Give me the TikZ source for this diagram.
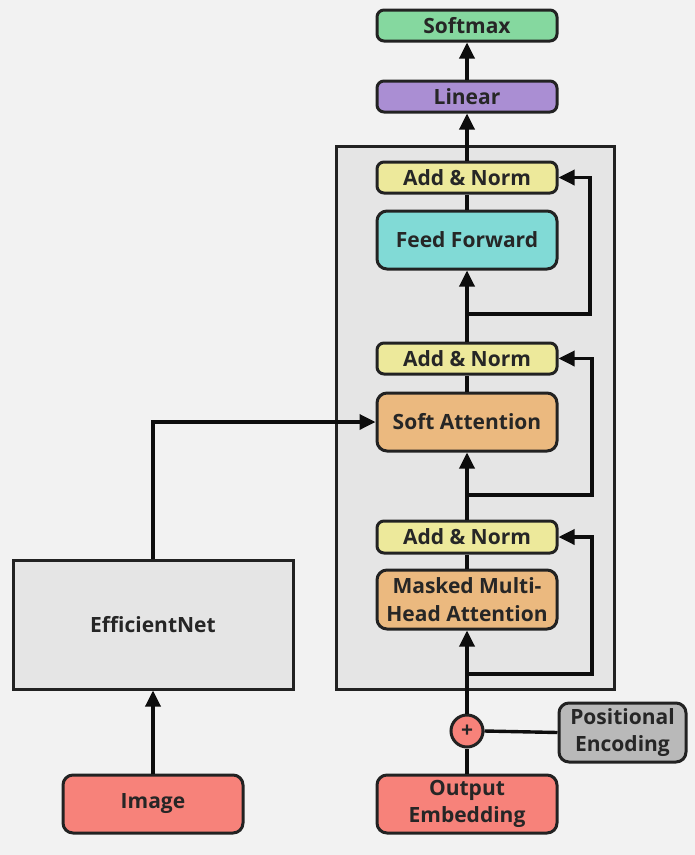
\documentclass[tikz,border=0pt]{standalone}
\usepackage{fontspec}
\setmainfont{Open Sans}[BoldFont={* Bold}]
\usetikzlibrary{arrows.meta,calc}
\definecolor{bgc}{HTML}{F2F2F2}
\definecolor{contc}{HTML}{E5E5E5}
\definecolor{strokec}{HTML}{222222}
\definecolor{linec}{HTML}{0D0D0D}
\definecolor{softc}{HTML}{85D89F}
\definecolor{linc}{HTML}{AA8ED3}
\definecolor{anc}{HTML}{EDE99B}
\definecolor{ffc}{HTML}{81DAD6}
\definecolor{attc}{HTML}{EBB97F}
\definecolor{embc}{HTML}{F7827A}
\definecolor{pec}{HTML}{B9B9B9}
\definecolor{textc}{HTML}{262626}
\tikzset{
  blk/.style={draw=strokec, line width=3pt, rounded corners=7pt, minimum width=180pt, text=textc,
    font=\bfseries\fontsize{21}{27.5}\selectfont, align=center, inner sep=0pt},
  arr/.style={draw=linec, line width=3.4pt, -{Triangle[length=16pt,width=15pt]}},
  ln/.style={draw=linec, line width=3.4pt},
}
\begin{document}
\begin{tikzpicture}[x=1pt,y=-1pt]
\fill[bgc] (0,0) rectangle (695,855);
\useasboundingbox (0,0) rectangle (695,855);
% container
\draw[draw=strokec, fill=contc, line width=3pt] (336,146) rectangle (614,689);
% nodes
\node[blk, fill=softc, minimum height=31pt] (soft) at (467,25.5) {Softmax};
\node[blk, fill=linc, minimum height=31pt] (lin) at (467,96.5) {Linear};
\node[blk, fill=anc, minimum height=31pt] (an1) at (467,177.5) {Add \& Norm};
\node[blk, fill=ffc, minimum height=58pt, rounded corners=10pt] (ff) at (467,240) {Feed Forward};
\node[blk, fill=anc, minimum height=31pt] (an2) at (467,358.5) {Add \& Norm};
\node[blk, fill=attc, minimum height=58pt, rounded corners=10pt] (sa) at (467,422) {Soft Attention};
\node[blk, fill=anc, minimum height=32pt] (an3) at (467,537) {Add \& Norm};
\node[blk, fill=attc, minimum height=59pt, rounded corners=10pt] (mmha) at (467,599.5) {Masked Multi-\\Head Attention};
\node[blk, fill=embc, minimum height=58pt, rounded corners=10pt] (oe) at (467,804) {Output\\Embedding};
\node[blk, fill=pec, minimum height=59pt, minimum width=127pt, rounded corners=10pt] (pe) at (622.5,732.5) {Positional\\Encoding};
\node[draw=strokec, line width=3pt, fill=embc, circle, minimum size=32pt, inner sep=0pt, text=textc,
  font=\bfseries\fontsize{21}{21}\selectfont] (plus) at (467,731) {+};
\node[draw=strokec, line width=3pt, fill=contc, minimum width=280pt, minimum height=129pt, text=textc,
  font=\bfseries\fontsize{21}{27.5}\selectfont] (en) at (153,624.5) {EfficientNet};
\node[blk, fill=embc, minimum height=58pt, rounded corners=10pt] (img) at (153,804) {Image};
% coordinates
\coordinate (r1) at (467,314);
\coordinate (r1c) at (590,314);
\coordinate (r2) at (467,495);
\coordinate (r2c) at (592,495);
\coordinate (r3) at (467,674);
\coordinate (r3c) at (592,674);
\coordinate (ec) at (153,422);
% main flow
\draw[ln] (oe.north) -- (plus.south);
\draw[arr] (plus.north) -- (mmha.south);
\draw[ln] (mmha.north) -- (an3.south);
\draw[arr] (an3.north) -- (sa.south);
\draw[ln] (sa.north) -- (an2.south);
\draw[arr] (an2.north) -- (ff.south);
\draw[ln] (ff.north) -- (an1.south);
\draw[arr] (an1.north) -- (lin.south);
\draw[arr] (lin.north) -- (soft.south);
\draw[ln] (pe.west) -- (plus.east);
% residuals
\draw[arr] (r1) -- (r1c) |- (an1.east);
\draw[arr] (r2) -- (r2c) |- (an2.east);
\draw[arr] (r3) -- (r3c) |- (an3.east);
% encoder
\draw[arr] (img.north) -- (en.south);
\draw[arr] (en.north) -- (ec) -- (ec -| sa.west);
\end{tikzpicture}
\end{document}
